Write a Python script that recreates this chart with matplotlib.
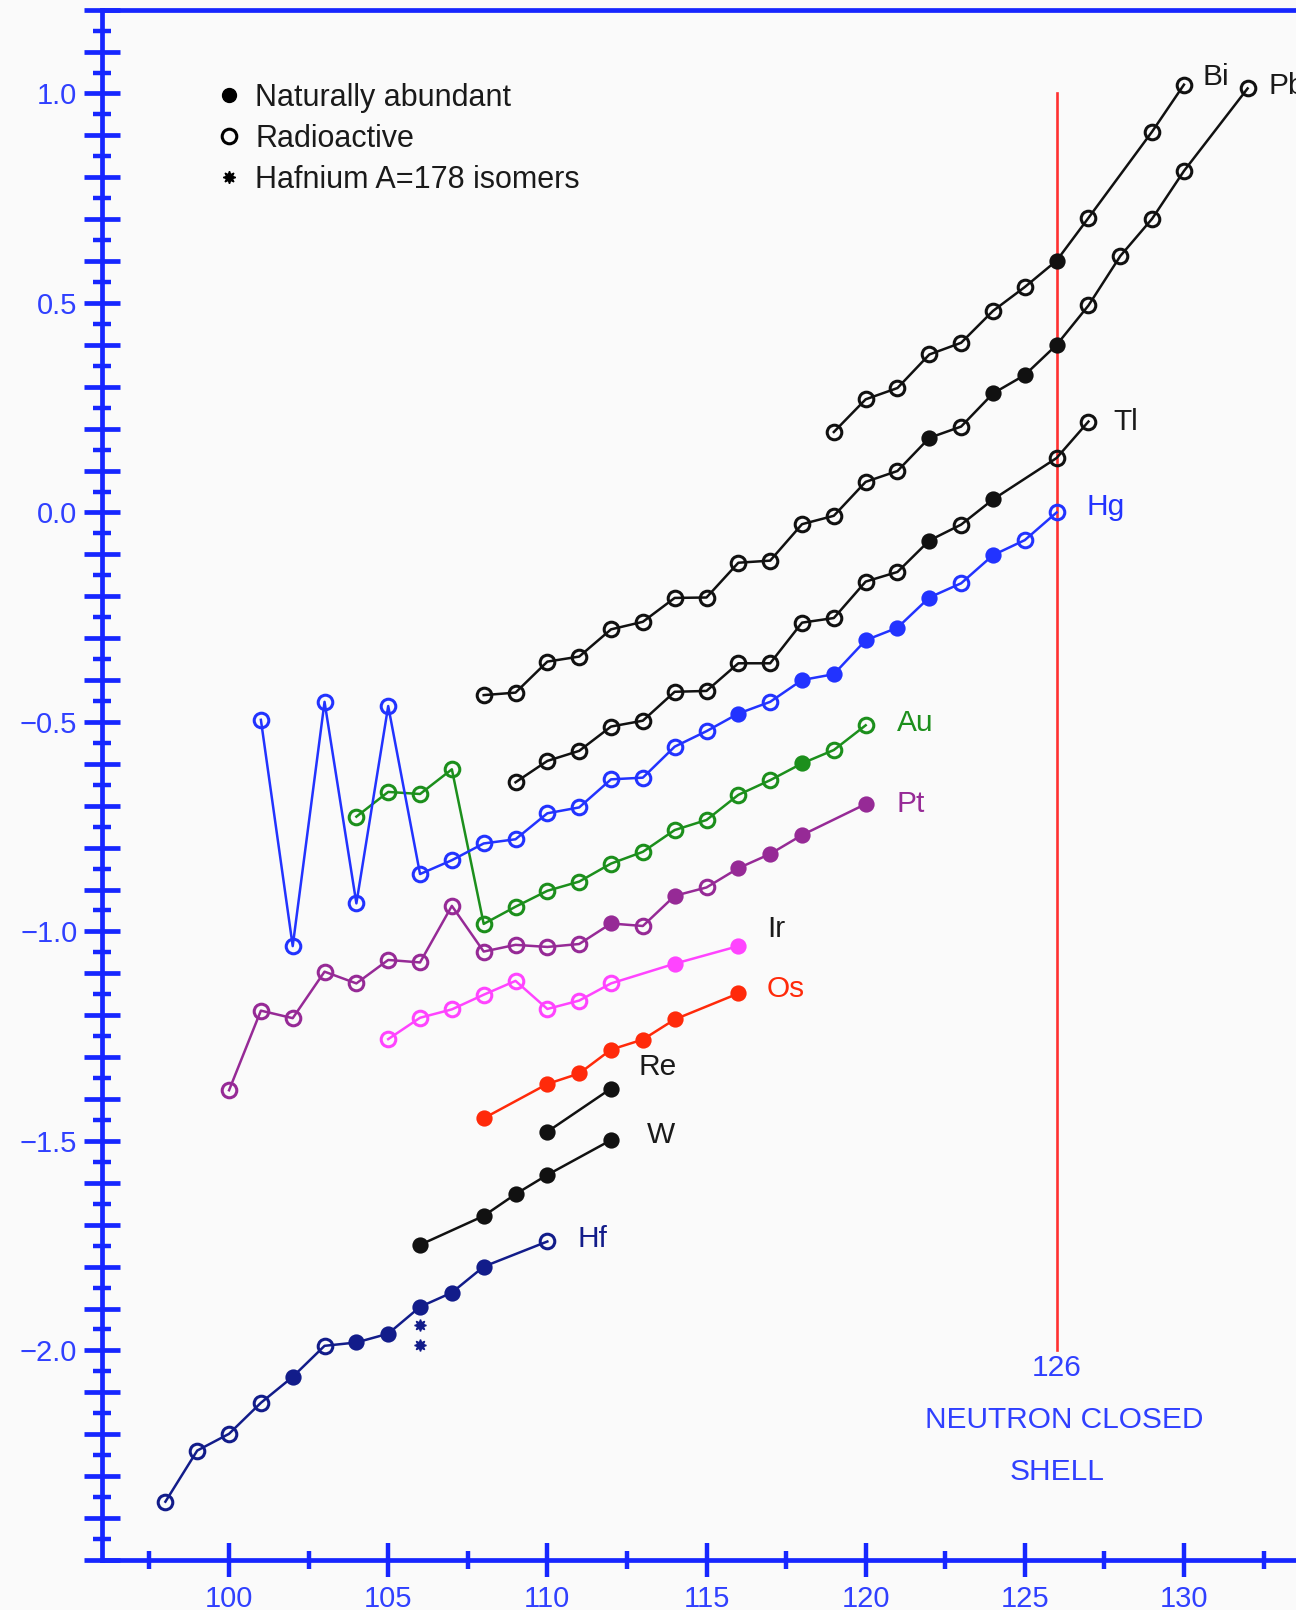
import matplotlib
matplotlib.use("Agg")
import numpy as np
import matplotlib.pyplot as plt
from matplotlib.lines import Line2D
from matplotlib.ticker import MultipleLocator, FuncFormatter

plt.rcParams['font.family'] = ['Liberation Sans', 'DejaVu Sans']

# ---- data: neutron number N, relative value, stable (naturally abundant) N ----
hf_n = [98, 99, 100, 101, 102, 103, 104, 105, 106, 107, 108, 110]
hf_val = [-2.361, -2.239, -2.199, -2.125, -2.063, -1.989, -1.981, -1.960,
          -1.896, -1.862, -1.800, -1.740]
hf_stable = [102, 104, 105, 106, 107, 108]
hf178_isomer_n = [106, 106]
hf178_isomer_val = [-1.939, -1.987]

w_n = [106, 108, 109, 110, 112]
w_val = [-1.748, -1.679, -1.627, -1.581, -1.498]
w_stable = [106, 108, 109, 110, 112]

re_n = [110, 112]
re_val = [-1.478, -1.375]
re_stable = [110, 112]

os_n = [108, 110, 111, 112, 113, 114, 116]
os_val = [-1.446, -1.364, -1.339, -1.282, -1.258, -1.210, -1.148]
os_stable = [108, 110, 111, 112, 113, 114, 116]

ir_n = [105, 106, 107, 108, 109, 110, 111, 112, 114, 116]
ir_val = [-1.257, -1.206, -1.186, -1.151, -1.118, -1.185, -1.165, -1.124,
          -1.077, -1.035]
ir_stable = [114, 116]

pt_n = [100, 101, 102, 103, 104, 105, 106, 107, 108, 109, 110, 111, 112,
        113, 114, 115, 116, 117, 118, 120]
pt_val = [-1.379, -1.189, -1.207, -1.096, -1.124, -1.068, -1.074, -0.939,
          -1.048, -1.032, -1.037, -1.030, -0.981, -0.987, -0.915, -0.895,
          -0.849, -0.815, -0.770, -0.696]
pt_stable = [112, 114, 116, 117, 118, 120]

au_n = [104, 105, 106, 107, 108, 109, 110, 111, 112, 113, 114, 115, 116,
        117, 118, 119, 120]
au_val = [-0.726, -0.667, -0.672, -0.613, -0.982, -0.941, -0.903, -0.881,
          -0.838, -0.810, -0.758, -0.734, -0.674, -0.639, -0.599, -0.567,
          -0.508]
au_stable = [118]

hg_n = [101, 102, 103, 104, 105, 106, 107, 108, 109, 110, 111, 112, 113,
        114, 115, 116, 117, 118, 119, 120, 121, 122, 123, 124, 125, 126]
hg_val = [-0.495, -1.035, -0.452, -0.933, -0.462, -0.863, -0.830, -0.790,
          -0.780, -0.718, -0.704, -0.637, -0.633, -0.559, -0.522, -0.480,
          -0.452, -0.400, -0.386, -0.305, -0.275, -0.203, -0.169, -0.102,
          -0.066, 0.000]
hg_stable = [116, 118, 119, 120, 121, 122, 124]

tl_n = [109, 110, 111, 112, 113, 114, 115, 116, 117, 118, 119, 120, 121,
        122, 123, 124, 126, 127]
tl_val = [-0.644, -0.593, -0.569, -0.511, -0.497, -0.428, -0.426, -0.360,
          -0.360, -0.263, -0.252, -0.165, -0.142, -0.067, -0.029, 0.031,
          0.130, 0.217]
tl_stable = [122, 124]

pb_n = [108, 109, 110, 111, 112, 113, 114, 115, 116, 117, 118, 119, 120,
        121, 122, 123, 124, 125, 126, 127, 128, 129, 130, 132]
pb_val = [-0.436, -0.430, -0.356, -0.344, -0.279, -0.261, -0.204, -0.203,
          -0.120, -0.115, -0.028, -0.008, 0.073, 0.099, 0.178, 0.205,
          0.284, 0.328, 0.400, 0.494, 0.612, 0.701, 0.815, 1.012]
pb_stable = [122, 124, 125, 126]

bi_n = [119, 120, 121, 122, 123, 124, 125, 126, 127, 129, 130]
bi_val = [0.192, 0.270, 0.297, 0.377, 0.405, 0.481, 0.538, 0.601, 0.703,
          0.909, 1.021]
bi_stable = [126]

closed_shell_n = 126
closed_shell_span = [-2.0, 1.0]

x_major_ticks = [100, 105, 110, 115, 120, 125, 130]
y_labelled_ticks = [-2.0, -1.5, -1.0, -0.5, 0.0, 0.5, 1.0]

# ---- styling ----
AXIS_BLUE = '#1626ff'
LABEL_BLUE = '#3040ff'
DARK = '#1a1a1a'
BG = '#fafafa'

fig = plt.figure(figsize=(12.96, 16.10), dpi=100, facecolor=BG)
ax = fig.add_axes([0.0785, 0.0311, 0.9215, 0.9629], facecolor=BG)
ax.set_xlim(96, 133.52)
ax.set_ylim(-2.5, 1.2)

for side in ('left', 'bottom', 'top'):
    ax.spines[side].set_color(AXIS_BLUE)
    ax.spines[side].set_linewidth(3.4)
ax.spines['right'].set_visible(False)

ax.xaxis.set_major_locator(plt.FixedLocator(x_major_ticks))
ax.xaxis.set_minor_locator(plt.FixedLocator(np.arange(97.5, 133.5, 5.0)))
ax.yaxis.set_major_locator(MultipleLocator(0.1))
ax.yaxis.set_minor_locator(MultipleLocator(0.05))


def y_fmt(v, pos):
    for t in y_labelled_ticks:
        if abs(v - t) < 1e-6:
            return f'{t:.1f}'.replace('-', '\u2212')
    return ''


ax.yaxis.set_major_formatter(FuncFormatter(y_fmt))
ax.tick_params(axis='y', which='major', direction='inout', length=26.5,
               width=3.4, color=AXIS_BLUE, labelcolor=LABEL_BLUE,
               labelsize=21, pad=4.3)
ax.tick_params(axis='y', which='minor', direction='inout', length=12.7,
               width=3.2, color=AXIS_BLUE)
ax.tick_params(axis='x', which='major', direction='inout', length=25,
               width=3.2, color=AXIS_BLUE, labelcolor=LABEL_BLUE,
               labelsize=21, pad=5.5)
ax.tick_params(axis='x', which='minor', direction='inout', length=13,
               width=3.2, color=AXIS_BLUE)

# closed-shell marker line
ax.plot([closed_shell_n, closed_shell_n], closed_shell_span,
        color='#ff3030', lw=1.9, zorder=1)


def draw_series(n, val, stable, color, name, text_color, offset):
    n = np.asarray(n)
    val = np.asarray(val)
    st = np.isin(n, stable)
    ax.plot(n, val, '-', color=color, lw=1.8, zorder=2)
    ax.plot(n[~st], val[~st], 'o', ls='none', ms=10.5, mfc='none',
            mec=color, mew=2.2, zorder=3)
    ax.plot(n[st], val[st], 'o', ls='none', ms=10.5, mfc=color,
            mec=color, mew=1.2, zorder=3)
    ax.annotate(name, xy=(n[-1], val[-1]), xytext=offset,
                textcoords='offset points', ha='left', va='center',
                fontsize=21.5, color=text_color)


series = [
    (hf_n, hf_val, hf_stable, '#121c8a', 'Hf', '#121c8a', (22, 1.5)),
    (w_n, w_val, w_stable, '#111111', 'W', DARK, (25.6, 3.6)),
    (re_n, re_val, re_stable, '#111111', 'Re', DARK, (19.7, 15.7)),
    (os_n, os_val, os_stable, '#ff2a0a', 'Os', '#ff2a0a', (20.6, 3.3)),
    (ir_n, ir_val, ir_stable, '#ff44ff', 'Ir', DARK, (20.6, 12)),
    (pt_n, pt_val, pt_stable, '#962a96', 'Pt', '#962a96', (22.2, 0)),
    (au_n, au_val, au_stable, '#1c8f1c', 'Au', '#1c8f1c', (22.2, 1.5)),
    (hg_n, hg_val, hg_stable, '#2233ff', 'Hg', '#2233ff', (21.5, 3.9)),
    (tl_n, tl_val, tl_stable, '#111111', 'Tl', DARK, (17.9, 0)),
    (pb_n, pb_val, pb_stable, '#111111', 'Pb', DARK, (14.7, 1.8)),
    (bi_n, bi_val, bi_stable, '#111111', 'Bi', DARK, (13.7, 5.4)),
]
for s in series:
    draw_series(*s)

# Hf-178 isomers
ax.plot(hf178_isomer_n, hf178_isomer_val, ls='none', marker=(8, 1, 0),
        ms=8.5, color='#121c8a', zorder=3)

# shell annotation
ax.text(closed_shell_n, -2.043, '126', ha='center', va='center',
        fontsize=21.5, color=LABEL_BLUE)
ax.text(closed_shell_n + 0.23, -2.166, 'NEUTRON CLOSED', ha='center',
        va='center', fontsize=21.5, color=LABEL_BLUE)
ax.text(closed_shell_n, -2.289, 'SHELL', ha='center', va='center',
        fontsize=21.5, color=LABEL_BLUE)

# legend
handles = [
    Line2D([], [], ls='none', marker='o', ms=10, mfc='k', mec='k'),
    Line2D([], [], ls='none', marker='o', ms=10.5, mfc='none', mec='k',
           mew=2.2),
    Line2D([], [], ls='none', marker=(8, 1, 0), ms=9, color='k'),
]
labels = ['Naturally abundant', 'Radioactive', 'Hafnium A=178 isomers']
leg = ax.legend(handles, labels, loc='upper left',
                bbox_to_anchor=(0.0964, 0.9530), frameon=False,
                fontsize=22, handlelength=0.8, handletextpad=0.45,
                labelspacing=0.37, borderpad=0, borderaxespad=0)
for t in leg.get_texts():
    t.set_color(DARK)

fig.savefig('out.png', dpi=100, facecolor=BG)
